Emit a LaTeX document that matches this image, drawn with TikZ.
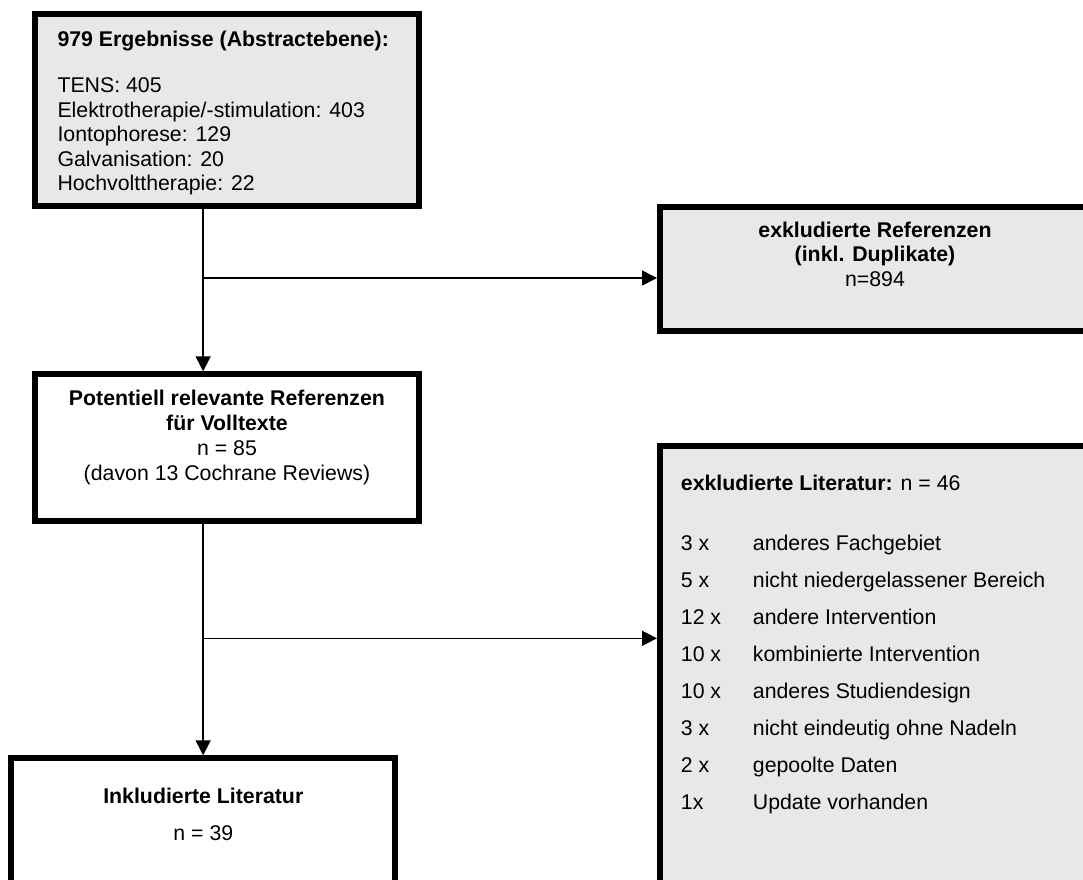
\documentclass[tikz,border=0pt]{standalone}
\usepackage{fontspec}
\setmainfont{Liberation Sans}
\usetikzlibrary{arrows.meta,calc}
\definecolor{boxgray}{RGB}{232,232,232}
\begin{document}
\begin{tikzpicture}[x=1pt,y=-1pt,
  box/.style={draw=black,line width=6pt,rectangle,inner sep=0pt},
  txt/.style={inner sep=0pt,font=\fontsize{21.3}{24.5}\selectfont},
  txtb/.style={inner sep=0pt,font=\fontsize{21.3}{24.5}\selectfont\bfseries},
  conn/.style={line width=1.5pt,-{Triangle[length=15pt,width=15pt]}}]
\useasboundingbox (0,0) rectangle (1083,879);
\clip (0,0) rectangle (1083,879);
% boxes
\node[box,fill=boxgray,minimum width=384pt,minimum height=192.6pt] (b1) at (227,110) {};
\node[box,fill=boxgray,minimum width=430pt,minimum height=124pt] (b2) at (875,269) {};
\node[box,fill=white,minimum width=384pt,minimum height=147pt] (b3) at (227,447.8) {};
\node[box,fill=boxgray,minimum width=430pt,minimum height=454pt] (b4) at (875,673.3) {};
\node[box,fill=white,minimum width=384.3pt,minimum height=142pt] (b5) at (203.15,829.3) {};
% connectors
\coordinate (y1) at (0,278);
\coordinate (y2) at (0,638.3);
\coordinate (j1) at (b5.north |- y1);
\coordinate (j2) at (b5.north |- y2);
\draw[conn] (b5.north |- b1.south) -- (b5.north |- b3.north);
\draw[conn] (j1) -- (b2.west |- j1);
\draw[conn] (b5.north |- b3.south) -- (b5.north);
\draw[conn] (j2) -- (b4.west |- j2);
% box 1 text
\node[txtb,anchor=base west] (t1) at (57.3,46) {979 Ergebnisse (Abstractebene):};
\node[txt,anchor=base west] (t1a) at (57.3,92.7) {TENS: 405};
\node[txt,anchor=base west] (t1b) at (57.3,117.2) {Elektrotherapie/-stimulation: 403};
\node[txt,anchor=base west] (t1c) at (57.3,141.6) {Iontophorese: 129};
\node[txt,anchor=base west] (t1d) at (57.3,166) {Galvanisation: 20};
\node[txt,anchor=base west] (t1e) at (57.3,190.4) {Hochvolttherapie: 22};
% box 2 text
\node[txtb,anchor=base] (t2a) at (875,237.3) {exkludierte Referenzen};
\node[txtb,anchor=base] (t2b) at (875,261.5) {(inkl. Duplikate)};
\node[txt,anchor=base] (t2c) at (875,286.5) {n=894};
% box 3 text
\node[txtb,anchor=base] (t3a) at (227,405) {Potentiell relevante Referenzen};
\node[txtb,anchor=base] (t3b) at (227,430.5) {für Volltexte};
\node[txt,anchor=base] (t3c) at (227,455.5) {n = 85};
\node[txt,anchor=base] (t3d) at (227,480) {(davon 13 Cochrane Reviews)};
% box 4 text
\node[txt,anchor=base west] (t4) at (680.7,490) {\textbf{exkludierte Literatur:} n = 46};
\foreach \k/\a/\b in {0/3 x/anderes Fachgebiet,
                      1/5 x/nicht niedergelassener Bereich,
                      2/12 x/andere Intervention,
                      3/10 x/kombinierte Intervention,
                      4/10 x/anderes Studiendesign,
                      5/3 x/nicht eindeutig ohne Nadeln,
                      6/2 x/gepoolte Daten,
                      7/1x/Update vorhanden}{
  \node[txt,anchor=base west] (n\k) at (680.7,550+37.14*\k) {\a};
  \node[txt,anchor=base west] (r\k) at (752.7,550+37.14*\k) {\b};
}
% box 5 text
\node[txtb,anchor=base] (t5a) at (203.3,803.3) {Inkludierte Literatur};
\node[txt,anchor=base] (t5b) at (203.3,840) {n = 39};
\end{tikzpicture}
\end{document}
